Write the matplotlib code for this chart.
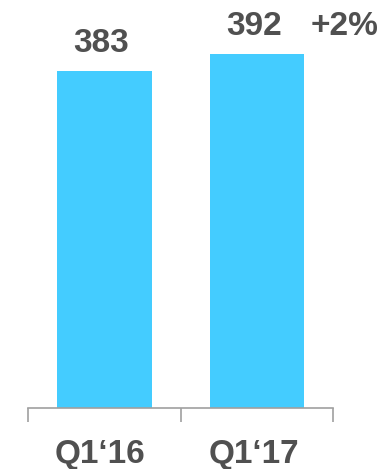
import matplotlib
matplotlib.use("Agg")
import matplotlib.pyplot as plt

quarters = ["Q1\u201816", "Q1\u201817"]
values = [383, 392]
growth_label = "+2%"

BAR_COLOR = "#44CCFF"
TEXT_COLOR = "#505050"
AXIS_COLOR = "#A0A0A0"

plt.rcParams["font.family"] = ["Liberation Sans", "DejaVu Sans"]

fig = plt.figure(figsize=(3.85, 4.69), dpi=100)
ax = fig.add_axes([0, 0.13, 1, 0.87])

x = list(range(len(values)))
ax.bar(x, values, width=0.62, color=BAR_COLOR)

# value labels above the bars
for xi, v in zip(x, values):
    ax.annotate(f"{v}", (xi, v), xytext=(-2, 19.5), textcoords="offset points",
                ha="center", va="center", fontsize=24, fontweight="bold",
                color=TEXT_COLOR)
ax.annotate(growth_label, (1.35, values[-1]), xytext=(0, 19.5),
            textcoords="offset points", ha="left", va="center",
            fontsize=24, fontweight="bold", color=TEXT_COLOR)

ax.set_xlim(-0.684, 1.841)
ax.set_ylim(205, 420.5)

for side in ["top", "right", "left"]:
    ax.spines[side].set_visible(False)
ax.spines["bottom"].set_bounds(-0.5, 1.5)
ax.spines["bottom"].set_color(AXIS_COLOR)
ax.spines["bottom"].set_linewidth(1.2)
ax.set_yticks([])

# category boundaries as ticks, labels on minor ticks at bar centres
ax.set_xticks([-0.5, 0.5, 1.5])
ax.set_xticklabels([])
ax.tick_params(axis="x", which="major", length=10, width=1.2, color=AXIS_COLOR)
ax.set_xticks([-0.03, 0.98], minor=True)
ax.set_xticklabels(quarters, minor=True, fontsize=24, fontweight="bold",
                   color=TEXT_COLOR)
ax.tick_params(axis="x", which="minor", length=0, pad=22)

fig.savefig("out.png", dpi=100)
